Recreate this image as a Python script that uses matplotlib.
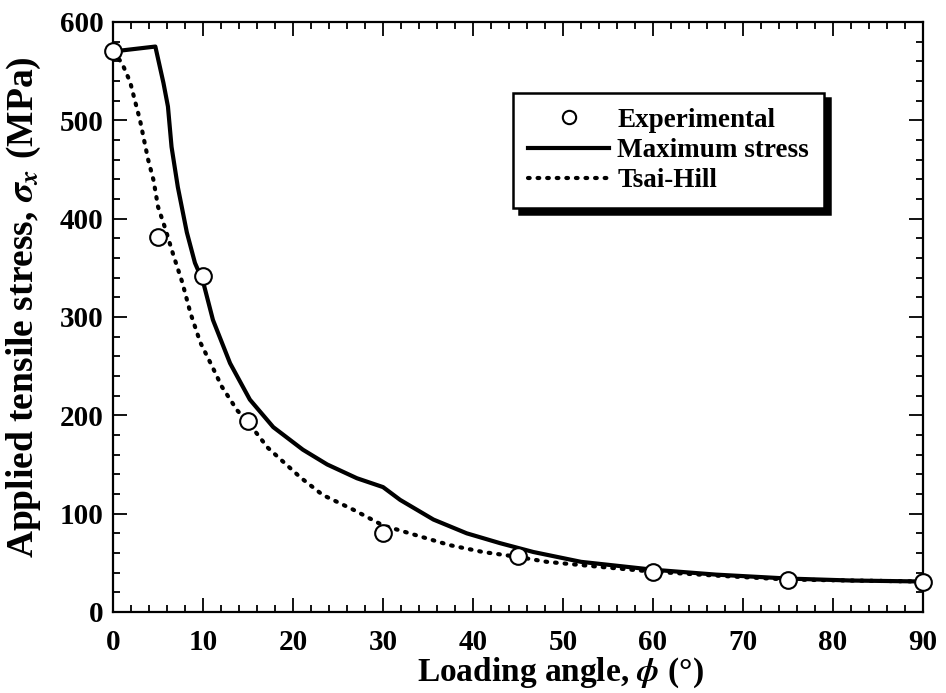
import numpy as np
import matplotlib
matplotlib.use('Agg')
import matplotlib.pyplot as plt
from matplotlib.ticker import MultipleLocator

plt.rcParams['font.family'] = ['Liberation Serif', 'DejaVu Serif']
plt.rcParams['font.weight'] = 'bold'
plt.rcParams['mathtext.fontset'] = 'stix'

# experimental points
exp_angle = [0, 5, 10, 15, 30, 45, 60, 75, 90]
exp_stress = [570, 381, 342, 194, 80, 57, 41, 33, 31]

# maximum stress criterion
ms_angle = [0, 4.7, 5.6, 6.1, 6.5, 7.2, 8.2, 9.1, 10, 11.1, 13, 15.2, 17.8, 21.1,
            23.8, 27.1, 30, 31.9, 35.6, 39.3, 43, 46.7, 52, 60, 67, 75, 82, 90]
ms_stress = [570, 575, 538, 514, 473, 432, 386, 355, 336, 297, 253, 216, 188, 165,
             150, 136, 127, 114, 94, 80, 70, 61, 51, 43, 38, 34, 32, 31]

# Tsai-Hill criterion
th_angle = [0, 1, 1.9, 2.4, 3, 3.4, 3.9, 4.5, 5, 5.8, 6.7, 7.7, 8.6, 9.7, 11, 12.1,
            13.8, 15, 17.2, 20.8, 23.3, 26.7, 30, 33.7, 37.4, 41.1, 45, 48.2, 54,
            60, 67, 75, 82, 90]
th_stress = [570, 558, 539, 521, 500, 482, 460, 439, 412, 390, 363, 335, 304, 274,
             250, 229, 205, 193, 167, 137, 119, 104, 88, 78, 68, 61, 56, 51, 46,
             41, 37, 33, 32, 31]

fig = plt.figure(figsize=(9.46, 6.93), dpi=100)
ax = fig.add_axes([0.1195, 0.1169, 0.8562, 0.8514])

ax.plot(ms_angle, ms_stress, color='black', lw=3.0, solid_joinstyle='round',
        label='Maximum stress', zorder=3)
ax.plot(th_angle, th_stress, color='black', lw=3.0, linestyle=(0, (0.4, 1.9)),
        dash_capstyle='round', label='Tsai-Hill', zorder=3)
ax.plot(exp_angle, exp_stress, linestyle='none', marker='o', ms=12,
        mfc='white', mec='black', mew=1.5, label='Experimental', zorder=5,
        clip_on=False)

ax.set_xlim(0, 90)
ax.set_ylim(0, 600)
ax.xaxis.set_major_locator(MultipleLocator(10))
ax.xaxis.set_minor_locator(MultipleLocator(2))
ax.yaxis.set_major_locator(MultipleLocator(100))
ax.yaxis.set_minor_locator(MultipleLocator(20))
ax.tick_params(which='both', direction='in', top=True, right=True,
               labelsize=21, width=1.3)
ax.tick_params(which='major', length=10)
ax.tick_params(which='minor', length=5)
ax.tick_params(axis='x', which='major', pad=12)
ax.tick_params(axis='y', which='major', pad=7)
for s in ax.spines.values():
    s.set_linewidth(1.6)

ax.set_xlabel('Loading angle, $\\phi$ (°)', fontsize=24, fontweight='bold')
ax.set_ylabel('Applied tensile stress, $\\sigma_x$ (MPa)', fontsize=27,
              fontweight='bold')
ax.xaxis.set_label_coords(0.552, -0.073)
ax.yaxis.set_label_coords(-0.086, 0.517)

handles, labels = ax.get_legend_handles_labels()
order = [2, 0, 1]
leg = ax.legend([handles[i] for i in order], [labels[i] for i in order],
                loc='upper left', bbox_to_anchor=(0.494, 0.88), borderaxespad=0,
                fancybox=False, edgecolor='black', framealpha=1,
                shadow={'ox': 4, 'oy': -4, 'color': 'black', 'alpha': 1},
                fontsize=19.5, handlelength=3.0, handletextpad=0.3,
                labelspacing=0.2, borderpad=0.55, markerscale=0.8)
leg.get_frame().set_linewidth(1.8)

fig.savefig('out.png', dpi=100)
